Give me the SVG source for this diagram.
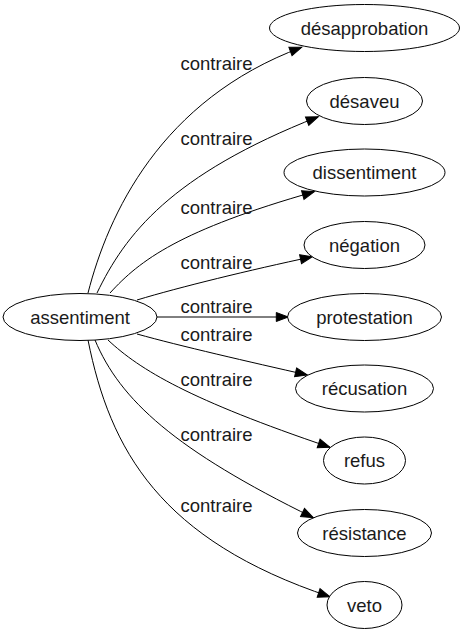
<svg xmlns="http://www.w3.org/2000/svg" width="465" height="635" viewBox="0 0 465 635">
<style>
.n ellipse{fill:#fff;stroke:#000;stroke-width:1}
text{font-family:"Liberation Sans",Arial,sans-serif;font-size:18.5px;fill:#1a1a1a;text-anchor:middle}
.e path{fill:none;stroke:#000;stroke-width:1;marker-end:url(#ah)}
</style>
<defs>
<marker id="ah" markerUnits="userSpaceOnUse" markerWidth="13" markerHeight="10" refX="12" refY="4.5" orient="auto" overflow="visible">
<path d="M0,0 L12,4.5 L0,9 Z" fill="#000" stroke="#000" stroke-width="1"/>
</marker>
</defs>
<rect width="465" height="635" fill="#fff"/>
<g id="edges" class="e">
<path d="M88,293 C108,215 160,100 301.7,47.3"/>
<path d="M97,293 C125,235 170,175 318.3,116.7"/>
<path d="M110,293 C140,260 180,230 314.3,191.7"/>
<path d="M137,300 C180,287 250,270 312.3,256.7"/>
<path d="M157,317 L288.3,317"/>
<path d="M137,334 C180,346 250,362 307.3,375"/>
<path d="M108,340 C140,370 190,400 330,447.3"/>
<path d="M95,340 C120,400 175,450 313.3,517.7"/>
<path d="M88,340 C110,450 160,540 330,596.7"/>
</g>
<g id="labels">
<text x="216.5" y="70">contraire</text>
<text x="216.5" y="145">contraire</text>
<text x="216.5" y="214">contraire</text>
<text x="216.5" y="269">contraire</text>
<text x="216.5" y="313">contraire</text>
<text x="216.5" y="341">contraire</text>
<text x="216.5" y="386">contraire</text>
<text x="216.5" y="441">contraire</text>
<text x="216.5" y="512">contraire</text>
</g>
<g id="assentiment" class="n"><ellipse cx="80" cy="317" rx="77" ry="23.5"/><text x="80" y="323.5">assentiment</text></g>
<g id="desapprobation" class="n"><ellipse cx="364.5" cy="28" rx="95" ry="23.5"/><text x="364.5" y="34.5">désapprobation</text></g>
<g id="desaveu" class="n"><ellipse cx="364.5" cy="101" rx="58" ry="23.5"/><text x="364.5" y="107.5">désaveu</text></g>
<g id="dissentiment" class="n"><ellipse cx="364.5" cy="172.5" rx="80.5" ry="23.5"/><text x="364.5" y="179">dissentiment</text></g>
<g id="negation" class="n"><ellipse cx="364.5" cy="245" rx="60.5" ry="23.5"/><text x="364.5" y="251.5">négation</text></g>
<g id="protestation" class="n"><ellipse cx="364.5" cy="317" rx="77" ry="23.5"/><text x="364.5" y="323.5">protestation</text></g>
<g id="recusation" class="n"><ellipse cx="364.5" cy="388.5" rx="69" ry="23.5"/><text x="364.5" y="395">récusation</text></g>
<g id="refus" class="n"><ellipse cx="364.5" cy="460.5" rx="41" ry="23.5"/><text x="364.5" y="467">refus</text></g>
<g id="resistance" class="n"><ellipse cx="364.5" cy="533" rx="67" ry="23.5"/><text x="364.5" y="539.5">résistance</text></g>
<g id="veto" class="n"><ellipse cx="364.5" cy="605" rx="37.5" ry="23.5"/><text x="364.5" y="611.5">veto</text></g>
</svg>
